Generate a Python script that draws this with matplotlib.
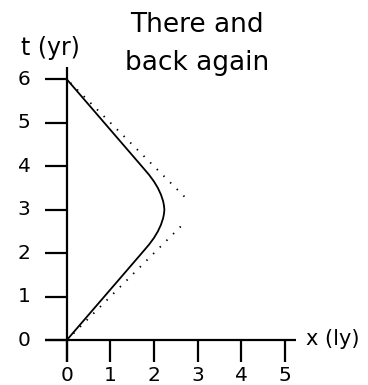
import matplotlib
matplotlib.use("Agg")
import matplotlib.pyplot as plt

# Worldline of the traveller: position x (light-years) against time t (years)
traveller_t = [0.0, 0.5, 1.0, 1.5, 2.0, 2.2, 2.35, 2.5, 2.65, 2.8, 2.9, 3.0,
               3.1, 3.2, 3.35, 3.5, 3.65, 3.8, 4.0, 4.5, 5.0, 5.5, 6.0]
traveller_x = [0.0, 0.43, 0.86, 1.29, 1.72, 1.89, 2.0, 2.09, 2.16, 2.21, 2.23, 2.24,
               2.23, 2.21, 2.16, 2.09, 2.0, 1.89, 1.72, 1.29, 0.86, 0.43, 0.0]

# Light rays going out and coming back
light_out_t = [0.0, 2.7]
light_out_x = [0.0, 2.7]
light_back_t = [3.3, 6.0]
light_back_x = [2.7, 0.0]

x_ticks = [0, 1, 2, 3, 4, 5]
t_ticks = [0, 1, 2, 3, 4, 5, 6]

fig = plt.figure(figsize=(3.68, 3.85), dpi=100)
ax = fig.add_axes([0, 0, 1, 1])
ax.set_axis_off()
ax.set_xlim(-1.53, 6.91)
ax.set_ylim(-1.03, 7.82)

axis_kw = dict(color="black", lw=1.6, solid_capstyle="butt")
tick_len = 0.5

# Hand-drawn axes with their ticks
ax.plot([-tick_len, 5.25], [0, 0], **axis_kw)
ax.plot([0, 0], [-tick_len, 6.28], **axis_kw)
for xv in x_ticks:
    ax.plot([xv, xv], [0, -tick_len], **axis_kw)
    ax.text(xv, -0.82, str(xv), ha="center", va="center", fontsize=14.5)
for tv in t_ticks:
    ax.plot([-tick_len, 0], [tv, tv], **axis_kw)
    ax.text(-0.98, tv, str(tv), ha="center", va="center", fontsize=14.5)

ax.text(5.49, 0.03, "x (ly)", ha="left", va="center", fontsize=15)
ax.text(-0.38, 6.72, "t (yr)", ha="center", va="center", fontsize=17)
ax.text(2.99, 6.8, "There and\nback again", ha="center", va="center",
        fontsize=19, linespacing=1.6)

# Light rays as fine dots
dot_kw = dict(color="black", lw=1.3, linestyle=(0, (0.8, 4.4)),
              dash_capstyle="butt")
ax.plot(light_out_x, light_out_t, **dot_kw)
ax.plot(light_back_x, light_back_t, **dot_kw)

# Traveller worldline
ax.plot(traveller_x, traveller_t, color="black", lw=1.3, solid_joinstyle="round")

fig.savefig("out.png", dpi=100)
